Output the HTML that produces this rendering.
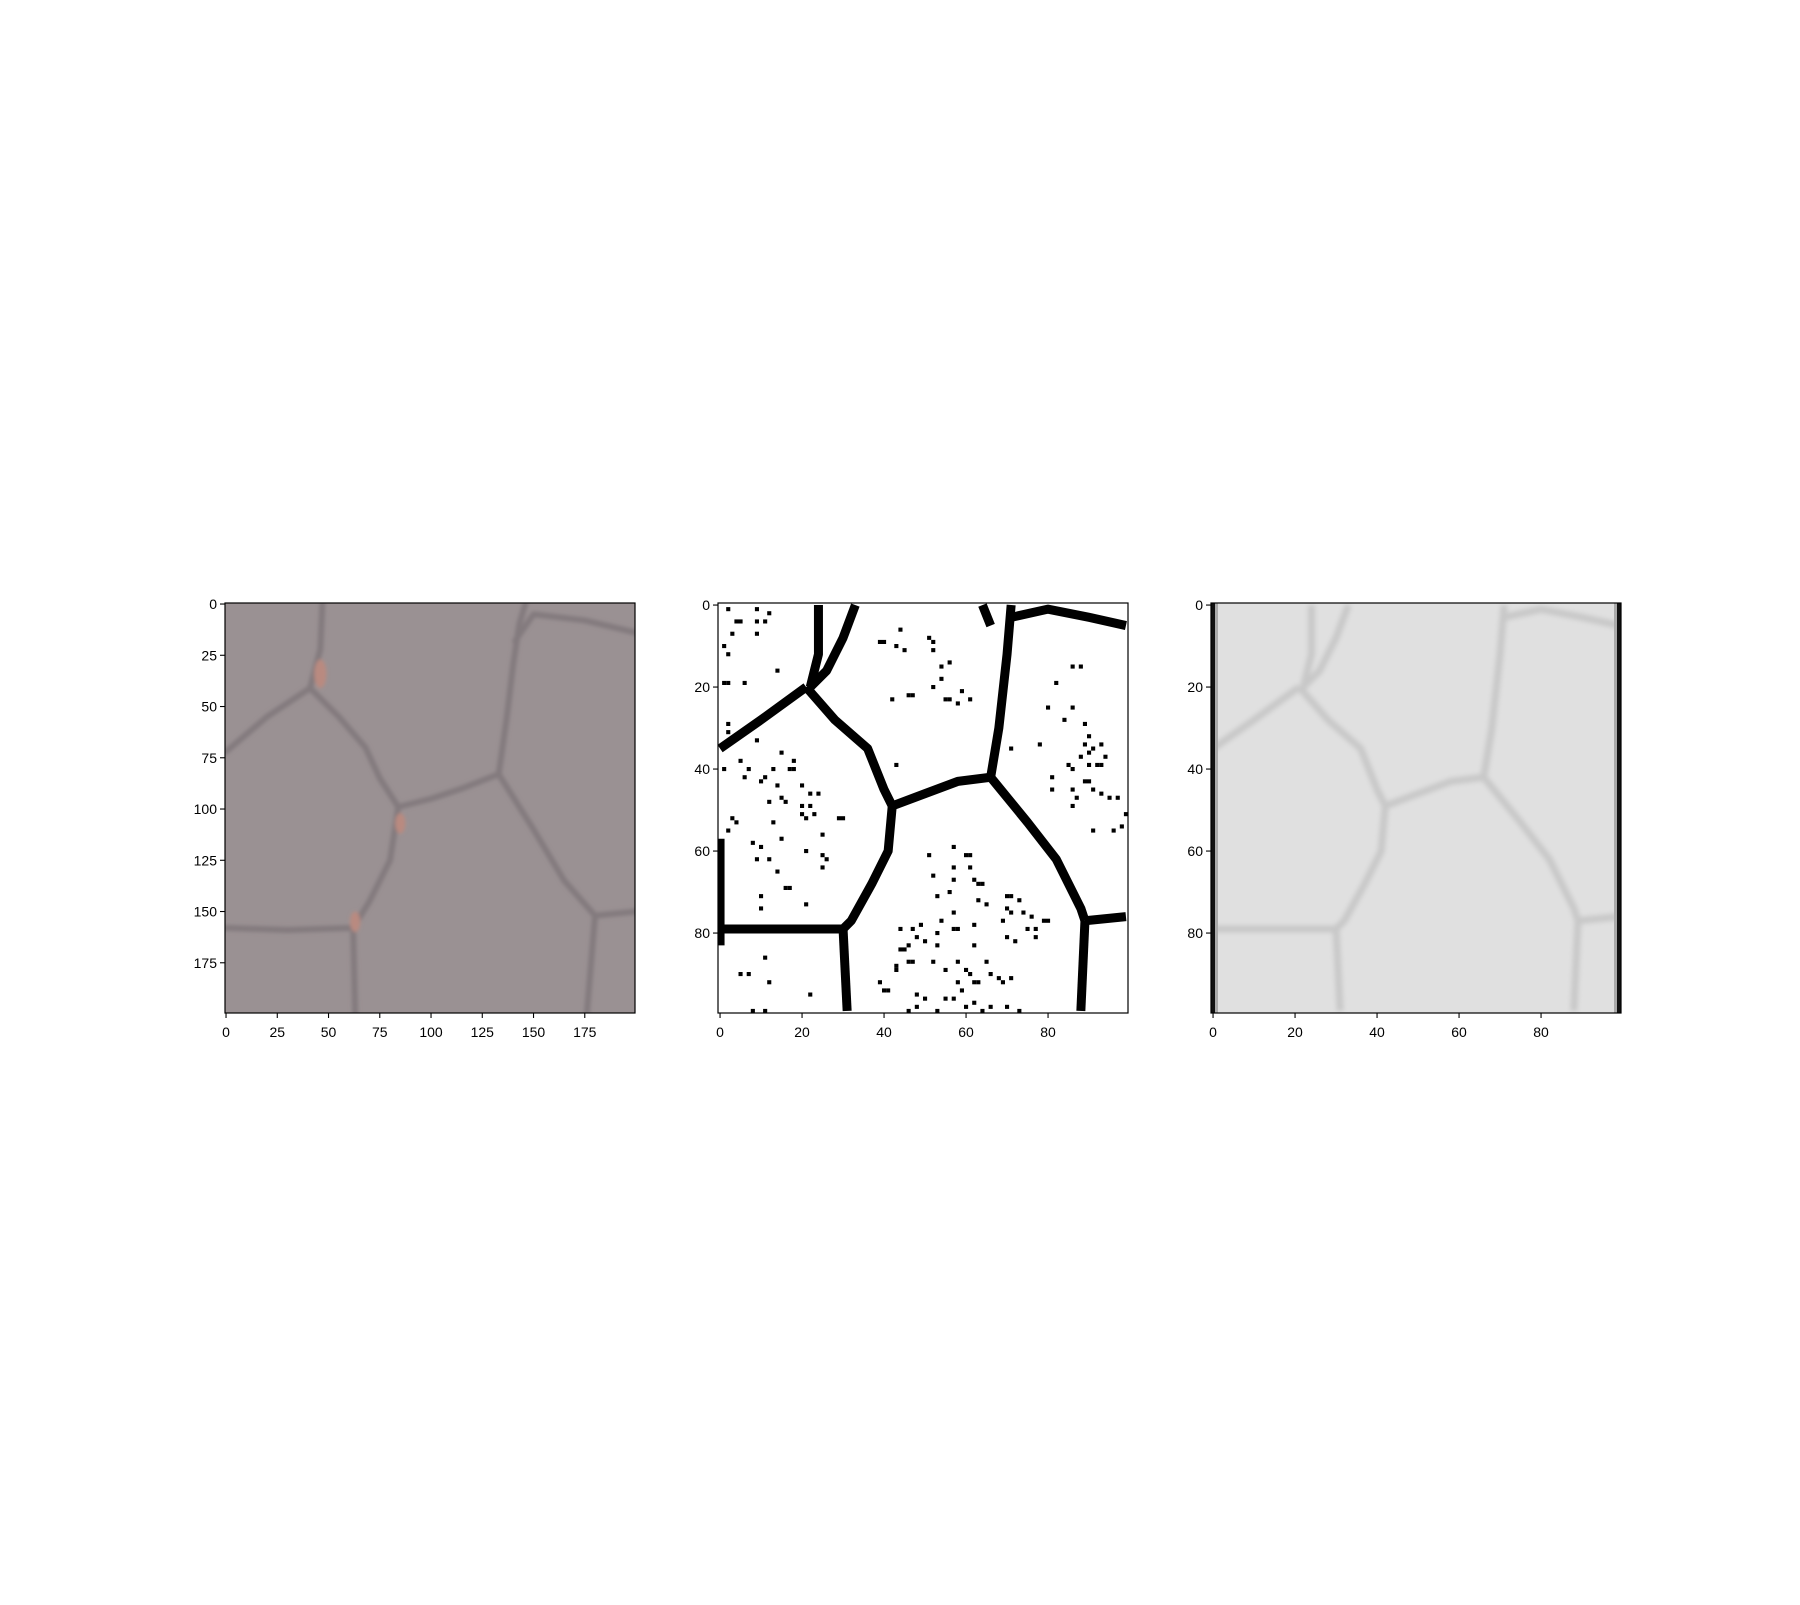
<!DOCTYPE html>
<html><head><meta charset="utf-8"><style>
html,body{margin:0;padding:0;background:#fff;}
svg text{font-family:"Liberation Sans",sans-serif;font-size:14px;fill:#000;}
</style></head><body>
<svg id="fig" width="1800" height="1600" xmlns="http://www.w3.org/2000/svg">
<defs>
<filter id="blur1"><feGaussianBlur stdDeviation="1.8"/></filter>
<filter id="blur3"><feGaussianBlur stdDeviation="2.4"/></filter>
<clipPath id="c1"><rect x="225" y="603" width="410" height="410"/></clipPath>
<clipPath id="c2"><rect x="718" y="603" width="410" height="410"/></clipPath>
<clipPath id="c3"><rect x="1211" y="603" width="410" height="410"/></clipPath>
</defs>
</svg>
<script>
// Panel 1 (200x200 image) boundary polylines, image coords
const p1Boundaries = [
 [[47,0],[46,22],[41,41]],
 [[0,72],[20,55],[41,41]],
 [[41,41],[55,55],[68,70],[75,85],[84,99]],
 [[84,99],[100,95],[115,90],[133,83]],
 [[133,83],[137,55],[140,30],[143,10],[146,0]],
 [[141,18],[150,5],[175,8],[200,14]],
 [[133,83],[150,110],[165,135],[180,152]],
 [[180,152],[200,150]],
 [[180,152],[176,200]],
 [[84,99],[80,125],[70,145],[62,158]],
 [[0,158],[30,159],[62,158]],
 [[62,158],[63,200]]
];
const p1Spots = [[46,34,3,7],[85,107,2.5,5],[63,155,2.5,5]];
const p1Ticks = [0,25,50,75,100,125,150,175];
// Panel 2/3 (100x100 image) boundaries
const p2Boundaries = [
 [[24,0],[24,12],[22,20]],
 [[33,0],[30,8],[26,16],[22,20]],
 [[0,35],[10,28],[21,20]],
 [[21,20],[28,28],[36,35],[40,45],[42,49]],
 [[42,49],[50,46],[58,43],[66,42]],
 [[66,42],[68,30],[70,12],[71,0]],
 [[71,3],[80,1],[90,3],[99,5]],
 [[66,42],[75,53],[82,62],[88,74],[89,77]],
 [[89,77],[99,76]],
 [[89,77],[88,99]],
 [[42,49],[41,60],[37,68],[32,77],[30,79]],
 [[0,79],[30,79]],
 [[30,79],[31,99]],
 [[0,57],[0,83]],
 [[64,0],[66,5]]
];
const p2Dots = [[2,1],[4,4],[5,4],[9,1],[9,4],[12,2],[3,7],[1,10],[2,12],[14,16],[6,19],[1,19],[2,19],[9,7],[11,4],[2,29],[2,31],[9,33],[15,36],[18,38],[5,38],[1,40],[6,42],[7,40],[10,43],[11,42],[13,40],[14,44],[17,40],[18,40],[20,44],[22,46],[24,46],[20,49],[22,49],[23,51],[20,51],[21,52],[29,52],[30,52],[15,47],[16,48],[12,48],[13,53],[15,57],[8,58],[10,59],[12,62],[9,62],[14,65],[16,69],[17,69],[10,71],[10,74],[21,73],[2,55],[3,52],[4,53],[21,60],[25,61],[26,62],[25,64],[25,56],[11,86],[5,90],[7,90],[12,92],[22,95],[11,99],[8,99],
 [44,6],[39,9],[40,9],[43,10],[45,11],[51,8],[52,9],[52,11],[54,15],[56,14],[54,18],[52,20],[55,23],[56,23],[58,24],[59,21],[61,23],[46,22],[47,22],[42,23],[43,39],
 [71,35],[78,34],[82,19],[86,15],[88,15],[80,25],[86,25],[89,29],[84,28],[90,32],[89,34],[90,36],[91,35],[93,34],[88,37],[90,39],[92,39],[93,39],[94,37],[85,39],[86,40],[86,45],[87,47],[89,43],[90,43],[91,45],[93,46],[95,47],[97,47],[99,51],[96,55],[91,55],[98,54],[86,49],[81,42],[81,45],
 [60,61],[61,61],[51,61],[57,59],[57,64],[57,67],[52,66],[61,64],[62,67],[63,68],[64,68],[56,70],[53,71],[57,75],[63,72],[65,73],[70,71],[71,71],[73,72],[74,75],[76,76],[70,74],[71,75],[75,79],[77,79],[79,77],[80,77],[77,81],[72,82],[70,81],[69,77],[62,78],[57,79],[58,79],[54,77],[53,80],[49,78],[47,79],[44,79],[48,81],[46,83],[44,84],[45,84],[50,82],[53,83],[52,87],[55,89],[58,87],[60,89],[61,90],[62,92],[63,92],[66,90],[68,91],[69,92],[71,91],[65,87],[62,83],[46,87],[47,87],[43,88],[43,89],[39,92],[40,94],[41,94],[48,95],[50,96],[55,96],[57,96],[58,92],[59,94],[60,98],[62,97],[64,99],[66,98],[70,98],[73,99],[59,100],[46,99],[48,98],[53,99]
];
const p2Ticks = [0,20,40,60,80];

const svg = document.getElementById('fig');
const NS = 'http://www.w3.org/2000/svg';
function mk(tag, attrs, parent){const e=document.createElementNS(NS,tag);for(const k in attrs)e.setAttribute(k,attrs[k]);(parent||svg).appendChild(e);return e;}

function makeScale(x0,y0,n){const s=410/n;return {x:v=>x0+(v+0.5)*s,y:v=>y0+(v+0.5)*s,s:s};}

function axesFrame(x0,y0,ticks,sc,name){
  const g = mk('g',{});
  
  
  mk('rect',{x:x0,y:y0,width:410,height:410,fill:'none',stroke:'#000','stroke-width':1.2},g);
  ticks.forEach(t=>{
    const px=sc.x(t), py=sc.y(t);
    mk('line',{x1:px,y1:y0+410,x2:px,y2:y0+415,stroke:'#000','stroke-width':1.1},g);
    const tx=mk('text',{x:px,y:y0+434,'text-anchor':'middle'},g);
    tx.textContent=t;
    
    
    mk('line',{x1:x0-5,y1:py,x2:x0,y2:py,stroke:'#000','stroke-width':1.1},g);
    const ty=mk('text',{x:x0-8,y:py+5,'text-anchor':'end'},g);
    ty.textContent=t;
    
    
  });
}
function pts(line,sc){return line.map(p=>sc.x(p[0])+','+sc.y(p[1])).join(' ');}

// Panel 1
(function(){
  const sc=makeScale(225,603,200);
  const g=mk('g',{'clip-path':'url(#c1)'});
  
  
  mk('rect',{x:225,y:603,width:410,height:410,fill:'#9a9193'},g);
  const lg=mk('g',{filter:'url(#blur1)'},g);
  p1Boundaries.forEach(l=>{
    const pl=mk('polyline',{points:pts(l,sc),fill:'none',stroke:'#837a7e','stroke-width':6,'stroke-linejoin':'round','stroke-linecap':'round'},lg);
    
    
  });
  p1Spots.forEach(s=>{
    const e=mk('ellipse',{cx:sc.x(s[0]),cy:sc.y(s[1]),rx:s[2]*sc.s,ry:s[3]*sc.s,fill:'#b98a80'},lg);
    
    
  });
  axesFrame(225,603,p1Ticks,sc,'panel1');
})();

// Panel 2
(function(){
  const sc=makeScale(718,603,100);
  const g=mk('g',{'clip-path':'url(#c2)'});
  
  
  mk('rect',{x:718,y:603,width:410,height:410,fill:'#fff'},g);
  p2Boundaries.forEach(l=>{
    const pl=mk('polyline',{points:pts(l,sc),fill:'none',stroke:'#000','stroke-width':9,'stroke-linejoin':'round'},g);
    
    
  });
  p2Dots.forEach(d=>{
    const r=mk('rect',{x:sc.x(d[0])-sc.s/2,y:sc.y(d[1])-sc.s/2,width:sc.s,height:sc.s,fill:'#000'},g);
    
    
  });
  axesFrame(718,603,p2Ticks,sc,'panel2');
})();

// Panel 3
(function(){
  const sc=makeScale(1211,603,100);
  const g=mk('g',{'clip-path':'url(#c3)'});
  
  
  mk('rect',{x:1211,y:603,width:410,height:410,fill:'#e0e0e0'},g);
  const lg=mk('g',{filter:'url(#blur3)'},g);
  p2Boundaries.slice(0,13).forEach(l=>{
    const pl=mk('polyline',{points:pts(l,sc),fill:'none',stroke:'#c8c8c8','stroke-width':7,'stroke-linejoin':'round'},lg);
    
    
  });
  const l=mk('rect',{x:1211,y:603,width:4,height:410,fill:'#111'},g);
  
  
  mk('rect',{x:1215,y:603,width:3,height:410,fill:'#aaa'},g);
  const r=mk('rect',{x:1617,y:603,width:4,height:410,fill:'#111'},g);
  
  
  mk('rect',{x:1614,y:603,width:3,height:410,fill:'#aaa'},g);
  axesFrame(1211,603,p2Ticks,sc,'panel3');
})();
</script>
</body></html>
